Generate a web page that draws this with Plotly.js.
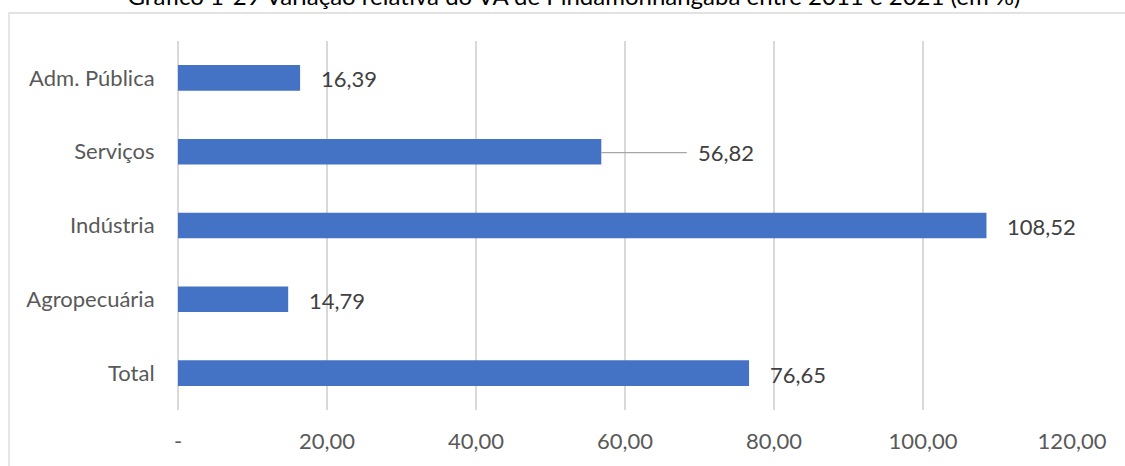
<!DOCTYPE html>
<html>
<head>
<meta charset="utf-8">
<script src="https://cdn.plot.ly/plotly-3.0.1.min.js"></script>
<style>
html,body{margin:0;padding:0;background:#fff;}
#chart{width:1125px;height:466px;}
</style>
</head>
<body>
<div id="chart"></div>
<script>
// ---- data ----
var categories = ["Total", "Agropecuária", "Indústria", "Serviços", "Adm. Pública"];
var values = [76.65, 14.79, 108.52, 56.82, 16.39];
var tickVals = [0, 20, 40, 60, 80, 100, 120];
var tickText = ["-", "20,00", "40,00", "60,00", "80,00", "100,00", "120,00"];
var titleText = "Gráfico 1-29 Variação relativa do VA de Pindamonhangaba entre 2011 e 2021 (em %)";

function fmt(v){ return v.toFixed(2).replace('.', ','); }

var FONT = "Lato, 'Open Sans', sans-serif";
var barColor = "#4472C4";
var gridColor = "#d9d9d9";

// label placement: the "Serviços" label was moved and has a leader line
var movedLabel = "Serviços";
var movedOffset = 125;

var annotations = categories.map(function(c, i){
  if (c === movedLabel) {
    return {
      x: values[i], y: c, xref: 'x', yref: 'y',
      text: fmt(values[i]),
      showarrow: true, arrowhead: 0, arrowwidth: 1.3, arrowcolor: '#a6a6a6',
      ax: movedOffset, ay: 0, startstandoff: 10, yshift: -1,
      font: {family: FONT, size: 22, color: '#404040'}
    };
  }
  return {
    x: values[i], y: c, xref: 'x', yref: 'y',
    text: fmt(values[i]), showarrow: false,
    xanchor: 'left', xshift: 19, yshift: -1,
    font: {family: FONT, size: 22, color: '#404040'}
  };
});

var trace = {
  type: 'bar', orientation: 'h',
  y: categories, x: values,
  width: 0.347,
  marker: {color: barColor},
  hoverinfo: 'none'
};

var layout = {
  width: 1125, height: 466,
  margin: {l: 178, r: 53, t: 41, b: 56},
  paper_bgcolor: '#ffffff', plot_bgcolor: '#ffffff',
  showlegend: false,
  font: {family: FONT, size: 22, color: '#595959'},
  title: {
    text: titleText,
    font: {family: FONT, size: 24, color: '#000000'},
    x: 574/1125, xanchor: 'center', xref: 'container',
    y: 1.0 - 5/466, yanchor: 'bottom', yref: 'container'
  },
  xaxis: {
    range: [0, 120],
    tickmode: 'array', tickvals: tickVals, ticktext: tickText,
    showgrid: true, gridcolor: gridColor, gridwidth: 1.3,
    zeroline: true, zerolinecolor: gridColor, zerolinewidth: 1.3,
    showline: false,
    ticks: 'outside', ticklen: 12, tickcolor: 'rgba(0,0,0,0)',
    tickfont: {family: FONT, size: 22, color: '#595959'},
    fixedrange: true
  },
  yaxis: {
    type: 'category',
    showgrid: false, zeroline: false, showline: false,
    ticks: 'outside', ticklen: 18, tickcolor: 'rgba(0,0,0,0)',
    tickfont: {family: FONT, size: 22, color: '#595959'},
    fixedrange: true
  },
  annotations: annotations,
  shapes: [{
    type: 'rect', xref: 'paper', yref: 'paper',
    x0: -169/894, x1: 1.2, y0: -0.4, y1: 1 + 28/369,
    line: {color: '#d9d9d9', width: 1.3}, fillcolor: 'rgba(0,0,0,0)',
    layer: 'below'
  }]
};

Plotly.newPlot('chart', [trace], layout, {displayModeBar: false, staticPlot: true});
</script>
</body>
</html>
